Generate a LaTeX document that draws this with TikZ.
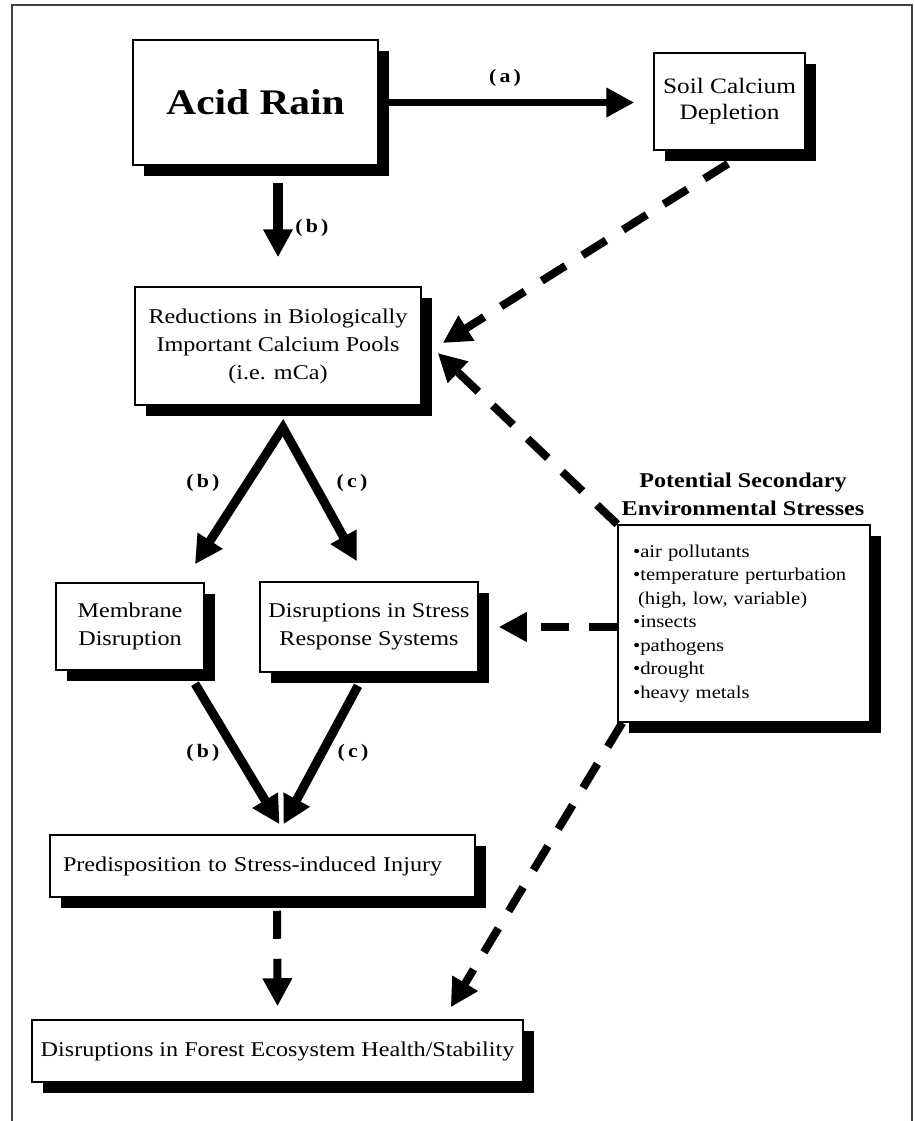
\documentclass[tikz,border=0pt]{standalone}
\usepackage{fontspec}
\setmainfont{Liberation Serif}[FakeStretch=1.15]
\usetikzlibrary{arrows.meta,shadows,calc}
\tikzset{
  box/.style={draw=black, line width=1.5pt, fill=white, inner sep=0pt, align=center,
    drop shadow={shadow xshift=11pt,shadow yshift=-11pt,fill=black,opacity=1}},
  body/.style={font=\fontsize{21pt}{28pt}\selectfont},
  sarrow/.style={line width=9pt, -{Triangle[length=28pt,width=28pt]}},
  darrow/.style={line width=8pt, dash pattern=on 28pt off 20pt, -{Triangle[length=28pt,width=28pt]}},
  lab/.style={font=\fontsize{19pt}{21pt}\selectfont\bfseries, inner sep=0pt},
  frame/.style={draw=black!75, line width=1.2pt}
}
\begin{document}
\begin{tikzpicture}[x=1pt,y=-1pt]
\useasboundingbox (0,0) rectangle (914,1121);
\draw[frame] (12,1121) -- (12,5) -- (912,5) -- (912,1121);

\node[box, minimum width=245pt, minimum height=125pt, font=\fontsize{36pt}{40pt}\selectfont\bfseries] (ar) at (255.5,102.5) {Acid Rain};
\node[box, minimum width=151pt, minimum height=97pt, font=\fontsize{22pt}{26pt}\selectfont] (soil) at (729.5,101.5) {Soil Calcium\\Depletion};
\node[box, body, minimum width=286pt, minimum height=118pt] (red) at (278,346) {Reductions in Biologically\\Important Calcium Pools\\(i.e. mCa)};
\node[box, body, minimum width=148pt, minimum height=87pt] (mem) at (130,626.5) {Membrane\\Disruption};
\node[box, body, minimum width=218pt, minimum height=90pt] (str) at (369,627) {Disruptions in Stress\\Response Systems};
\node[box, font=\fontsize{18pt}{23.5pt}\selectfont, minimum width=252pt, minimum height=197pt, text width=222pt, inner xsep=15pt, align=left] (pot) at (744,623.5)
 {•air pollutants\\•temperature perturbation\\\hspace*{5pt}(high, low, variable)\\•insects\\•pathogens\\•drought\\•heavy metals};
\node[font=\fontsize{21pt}{28pt}\selectfont\bfseries, align=center, inner sep=0pt] (ptitle) at (743,494) {Potential Secondary\\Environmental Stresses};
\node[box, body, minimum width=425pt, minimum height=62pt, text width=399pt, inner xsep=13pt, align=left] (pred) at (262.5,866) {Predisposition to Stress-induced Injury};
\node[box, body, minimum width=491pt, minimum height=62pt] (forest) at (277.5,1051) {Disruptions in Forest Ecosystem Health/Stability};

% solid arrows
\draw[sarrow, line width=7pt, shorten >=19pt] ([xshift=10pt]ar.east) -- (soil.west |- ar.east);
\node[lab] (la) at (505,78) {(\,a\,)};
\draw[sarrow, line width=10pt] ([yshift=-17pt]ar.south -| red.north) -- ([yshift=29pt]red.north);
\node[lab] (lb1) at (312,228) {(\,b\,)};

\coordinate (apex) at ([xshift=5pt,yshift=-22pt]red.south);
\draw[sarrow, {Triangle[length=28pt,width=28pt]}-{Triangle[length=28pt,width=28pt]}, line join=miter]
  ([xshift=65pt,yshift=18pt]mem.north) -- (apex) -- ([xshift=-12pt,yshift=20pt]str.north);
\node[lab] (lb2) at (203,483) {(\,b\,)};
\node[lab] (lc1) at (352,483) {(\,c\,)};

\draw[sarrow] ([xshift=65pt,yshift=-13pt]mem.south) -- ([xshift=17pt,yshift=10pt]pred.north);
\draw[sarrow] ([xshift=-11pt,yshift=-13pt]str.south) -- ([xshift=21pt,yshift=10pt]pred.north);
\node[lab] (lb3) at (203,753) {(\,b\,)};
\node[lab] (lc2) at (353,753) {(\,c\,)};

% dashed arrows
\draw[darrow] ([xshift=14.5pt,yshift=-13pt]pred.south) -- ([yshift=13pt]forest.north);
\draw[darrow] ([xshift=-1.5pt,yshift=-13pt]soil.south) -- ([xshift=21pt,yshift=3pt]red.east);
\draw[darrow] (pot.north west) -- ([xshift=16pt,yshift=-7pt]red.east);
\draw[darrow] (pot.west |- str.east) -- ([xshift=20pt]str.east);
\draw[darrow] ([xshift=5pt]pot.south west) -- ([xshift=-73pt,yshift=12pt]forest.north east);
\end{tikzpicture}
\end{document}
